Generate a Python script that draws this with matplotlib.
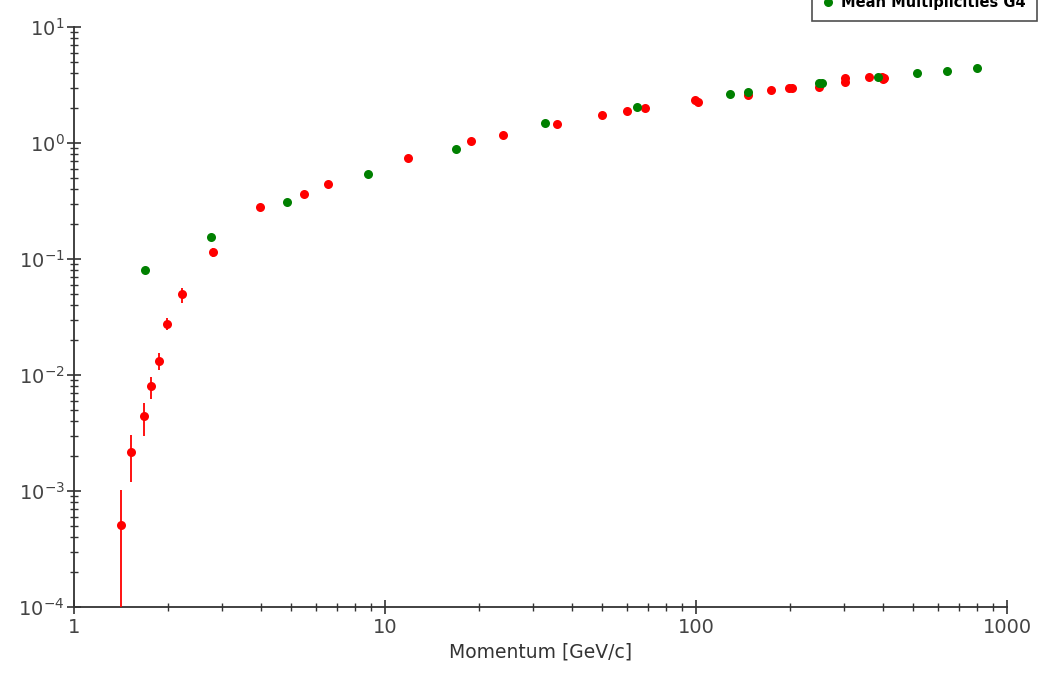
import matplotlib
matplotlib.use("Agg")
import matplotlib.pyplot as plt
from matplotlib.lines import Line2D
from matplotlib.ticker import LogLocator, NullFormatter
import numpy as np

# ---- data ----
data_p = [1.42, 1.52, 1.68, 1.77, 1.88, 1.99, 2.22, 2.79, 3.97, 5.48, 6.57,
          11.9, 18.9, 23.9, 35.7, 49.9, 60.0, 68.6, 99.3, 101.5, 146.6, 174.0,
          199.6, 204.0, 248.5, 302.0, 302.0, 359.0, 396.0, 398.0, 402.0]
data_mult = [5.1e-4, 2.15e-3, 4.43e-3, 8.04e-3, 0.0133, 0.0277, 0.0496, 0.115,
             0.281, 0.366, 0.446, 0.743, 1.05, 1.17, 1.45, 1.74, 1.89, 2.0,
             2.35, 2.25, 2.59, 2.86, 2.96, 2.96, 3.06, 3.61, 3.38, 3.68, 3.7,
             3.55, 3.65]
data_low = [1e-5, 1.19e-3, 2.98e-3, 6.25e-3, 0.01104, 0.0244, 0.042, 0.104,
            0.276, 0.36, 0.44, 0.735, 1.04, 1.16, 1.44, 1.73, 1.88, 1.99,
            2.34, 2.24, 2.58, 2.85, 2.95, 2.95, 3.05, 3.6, 3.37, 3.67, 3.69,
            3.54, 3.64]
data_high = [1.02e-3, 3.04e-3, 5.70e-3, 9.66e-3, 0.01557, 0.0308, 0.0559, 0.124,
             0.286, 0.372, 0.452, 0.751, 1.06, 1.18, 1.46, 1.75, 1.90, 2.01,
             2.36, 2.26, 2.60, 2.87, 2.97, 2.97, 3.07, 3.62, 3.39, 3.69, 3.71,
             3.56, 3.66]

g4_p = [1.69, 2.76, 4.83, 8.84, 16.9, 32.8, 64.7, 128.6, 146.6, 249.0, 255.0,
        385.0, 513.0, 640.0, 799.0]
g4_mult = [0.0804, 0.155, 0.308, 0.544, 0.88, 1.49, 2.03, 2.63, 2.77, 3.27,
           3.27, 3.68, 3.99, 4.17, 4.46]

x_label = "Momentum [GeV/c]"
legend_label = "Mean Multiplicities G4"

# ---- figure ----
W, H = 1041, 674
fig = plt.figure(figsize=(W / 100, H / 100), dpi=100)
ax = fig.add_axes([74 / W, 1 - 607 / H, (1007 - 74) / W, (607 - 27) / H])

y = np.array(data_mult)
yerr = np.vstack([y - np.array(data_low), np.array(data_high) - y])

ax.set_xscale("log")
ax.set_yscale("log")

ax.errorbar(data_p, data_mult, yerr=yerr, fmt="o", color="#ff0000",
            ecolor="#ff0000", elinewidth=1.3, markersize=6.5, capsize=0,
            markeredgewidth=0, zorder=3)
ax.plot(g4_p, g4_mult, "o", color="#008000", markersize=6.5,
        markeredgewidth=0, zorder=4)

ax.set_xlim(1, 1000)
ax.set_ylim(1e-4, 10)

for s in ["top", "right"]:
    ax.spines[s].set_visible(False)
for s in ["left", "bottom"]:
    ax.spines[s].set_color("#333333")
    ax.spines[s].set_linewidth(1.3)

ax.xaxis.set_major_locator(LogLocator(base=10, numticks=10))
ax.xaxis.set_minor_locator(LogLocator(base=10, subs=np.arange(2, 10), numticks=20))
ax.yaxis.set_major_locator(LogLocator(base=10, numticks=10))
ax.yaxis.set_minor_locator(LogLocator(base=10, subs=np.arange(2, 10), numticks=20))
ax.xaxis.set_minor_formatter(NullFormatter())
ax.yaxis.set_minor_formatter(NullFormatter())
ax.set_xticks([1, 10, 100, 1000])
ax.set_xticklabels(["1", "10", "100", "1000"])

ax.tick_params(which="major", direction="inout", length=9.5, width=1.2,
               color="#333333", labelsize=14, labelcolor="#444444")
ax.tick_params(which="minor", direction="inout", length=6, width=1.0,
               color="#333333")
ax.tick_params(axis="x", which="major", pad=3)
ax.tick_params(axis="y", which="major", pad=2)

ax.set_xlabel(x_label, fontsize=13.5, color="#333333", labelpad=4)

# legend (top partly cut off by the figure edge, as in the reference)
handle = Line2D([], [], marker="o", linestyle="none", color="#008000",
                markersize=6.5, markeredgewidth=0)
leg = fig.legend([handle], [legend_label],
                 loc="lower right", bbox_to_anchor=(1037 / W, 1 - 21 / H),
                 bbox_transform=fig.transFigure, borderaxespad=0,
                 frameon=True, fancybox=False, edgecolor="#222222",
                 prop={"weight": "bold", "size": 10.5}, handletextpad=0.5,
                 handlelength=0.8, borderpad=0.75)
leg.get_frame().set_linewidth(1.2)

fig.savefig("out.png", dpi=100)
